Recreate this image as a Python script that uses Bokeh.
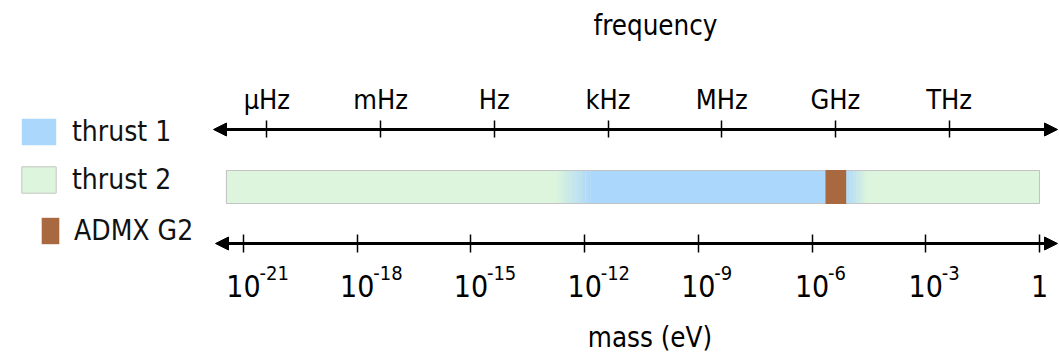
import math
from bokeh.plotting import figure
from bokeh.models import (Range1d, LogScale, LogAxis, FixedTicker, Arrow, NormalHead,
                          Legend, LegendItem, ColumnDataSource)
from bokeh.core.properties import value
from bokeh.embed import file_html
from bokeh.resources import INLINE

# ---------------- data ----------------
series_names = ["thrust 1", "thrust 2", "ADMX G2"]
thrust1_range = [10 ** -12.31, 10 ** -4.83]     # mass, eV (fade centres)
thrust2_range = [10 ** -21.45, 1.0]             # mass, eV
admx_range = [10 ** -5.646, 10 ** -5.10]        # mass, eV
mass_ticks = [1e-21, 1e-18, 1e-15, 1e-12, 1e-9, 1e-6, 1e-3, 1.0]
mass_tick_base = ["10", "10", "10", "10", "10", "10", "10", "1"]
mass_tick_exp = ["-21", "-18", "-15", "-12", "-9", "-6", "-3"]
freq_ticks = [1e-6, 1e-3, 1.0, 1e3, 1e6, 1e9, 1e12]
freq_tick_labels = ["μHz", "mHz", "Hz", "kHz", "MHz", "GHz", "THz"]
H_EV_S = 4.135667696e-15   # Planck constant, eV*s

# ---------------- layout / style ----------------
W, H = 1059, 360
PX_PER_DEC = 37.905
X0 = 243                      # pixel of the 1e-21 tick
L0 = -21 - X0 / PX_PER_DEC
L1 = L0 + W / PX_PER_DEC


def px_to_log(px):
    return (px - X0) / PX_PER_DEC - 21


BAR_TOP, BAR_BOT = 170, 203
AX_TOP_Y, AX_BOT_Y = 129, 243
EXP_Y = 272
ARROW_L_TOP, ARROW_L_BOT, ARROW_R = px_to_log(213), px_to_log(215), px_to_log(1057)
TOP_BOUNDS = (px_to_log(262), px_to_log(1048))   # centres the "frequency" label
BOT_BOUNDS = (px_to_log(240), px_to_log(1075))   # centres the "mass (eV)" label
FADE_L, FADE_R, NFADE = 0.92, 0.54, 14

BLUE, GREEN, BROWN, EDGE = "#acd7fc", "#ddf5dc", "#a86840", "#c4c4c4"
FONT = "DejaVu Sans Condensed"

p = figure(width=W, height=H, x_axis_type="log",
           x_range=Range1d(10 ** L0, 10 ** L1), y_range=Range1d(H, 0),
           x_axis_location=None, y_axis_location=None,
           toolbar_location=None, output_backend="svg", min_border=0)
p.outline_line_color = None
p.background_fill_color = "white"
p.border_fill_color = "white"
for g in p.grid:
    g.visible = False

# thrust 2 (green, full bar)
r_green = p.quad(left=[thrust2_range[0]], right=[thrust2_range[1]], top=BAR_TOP, bottom=BAR_BOT,
                 fill_color=GREEN, line_color=EDGE, line_width=1)

# thrust 1 (blue, with soft edges)
lo, hi = math.log10(thrust1_range[0]), math.log10(thrust1_range[1])
r_blue = p.quad(left=[10 ** (lo + FADE_L / 2)], right=[10 ** (hi - FADE_R / 2)],
                top=BAR_TOP, bottom=BAR_BOT, fill_color=BLUE, line_color=None)
fl, fr, fa = [], [], []
for i in range(NFADE):
    a = (i + 0.5) / NFADE
    s = lo - FADE_L / 2 + i * FADE_L / NFADE
    fl.append(10 ** s); fr.append(10 ** (s + FADE_L / NFADE)); fa.append(a)
    s = hi - FADE_R / 2 + i * FADE_R / NFADE
    fl.append(10 ** s); fr.append(10 ** (s + FADE_R / NFADE)); fa.append(1 - a)
p.quad(left="l", right="r", top=BAR_TOP, bottom=BAR_BOT, fill_alpha="a",
       source=ColumnDataSource(dict(l=fl, r=fr, a=fa)), fill_color=BLUE, line_color=None)
p.quad(left=[thrust2_range[0]], right=[thrust2_range[1]], top=BAR_TOP, bottom=BAR_BOT,
       fill_color=None, line_color=EDGE, line_width=1)

# ADMX G2
r_admx = p.quad(left=[admx_range[0]], right=[admx_range[1]], top=BAR_TOP - 0.5, bottom=BAR_BOT + 0.5,
                fill_color=BROWN, line_color=None)

# top frequency axis / bottom mass axis
p.extra_x_ranges = {"freq": Range1d(10 ** L0 / H_EV_S, 10 ** L1 / H_EV_S)}
p.extra_x_scales = {"freq": LogScale()}
top = LogAxis(x_range_name="freq", fixed_location=AX_TOP_Y,
              ticker=FixedTicker(ticks=freq_ticks, minor_ticks=[]),
              major_label_overrides=dict(zip(freq_ticks, freq_tick_labels)),
              bounds=(10 ** TOP_BOUNDS[0] / H_EV_S, 10 ** TOP_BOUNDS[1] / H_EV_S),
              axis_label="frequency")
bot = LogAxis(fixed_location=AX_BOT_Y,
              ticker=FixedTicker(ticks=mass_ticks, minor_ticks=[]),
              major_label_overrides=dict(zip(mass_ticks, mass_tick_base)),
              bounds=(10 ** BOT_BOUNDS[0], 10 ** BOT_BOUNDS[1]),
              axis_label="mass (eV)")
for ax, tin, tout in ((top, 8, 9), (bot, 9, 9)):
    ax.axis_line_color = None          # the line itself is drawn by the arrows
    ax.major_tick_line_width = 1.5
    ax.major_tick_line_color = "black"
    ax.major_tick_in = tin
    ax.major_tick_out = tout
    ax.minor_tick_line_color = None
    ax.major_label_text_color = "black"
    ax.axis_label_text_color = "black"
    ax.axis_label_text_font = FONT
    ax.axis_label_text_font_size = "27.5px"
    ax.axis_label_text_font_style = "normal"
top.major_label_text_font = FONT
top.major_label_text_font_size = "27px"
top.major_label_standoff = 6
top.axis_label_standoff = 40
bot.major_label_text_font = FONT
bot.major_label_text_font_size = "30px"
bot.major_label_standoff = 22
bot.axis_label_standoff = 21
p.add_layout(top, "above")
p.add_layout(bot, "below")

# exponents of mass tick labels
p.text(x=mass_ticks[:-1], y=EXP_Y, text=mass_tick_exp, text_font=value(FONT),
       text_font_size="20px", text_align="left", text_baseline="alphabetic",
       x_offset=16, text_color="black")

# axis lines with arrow heads
for y, xl in ((AX_TOP_Y, ARROW_L_TOP), (AX_BOT_Y, ARROW_L_BOT)):
    p.add_layout(Arrow(x_start=10 ** xl, x_end=10 ** ARROW_R, y_start=y, y_end=y,
                       line_width=3, line_color="black",
                       start=NormalHead(size=13, fill_color="black", line_color="black", line_width=1),
                       end=NormalHead(size=13, fill_color="black", line_color="black", line_width=1)))

# legends
common = dict(padding=0, margin=0, border_line_color=None, background_fill_alpha=0,
              label_text_font=FONT, label_text_font_size="28px", label_text_color="#111111",
              glyph_height=33)
leg1 = Legend(items=[LegendItem(label=series_names[0], renderers=[r_blue]),
                     LegendItem(label=series_names[1], renderers=[r_green])],
              location=(17, 164), glyph_width=43, spacing=15, label_standoff=12, **common)
leg2 = Legend(items=[LegendItem(label=series_names[2], renderers=[r_admx])],
              location=(39, 113), glyph_width=22, label_standoff=13, **common)
p.add_layout(leg1)
p.add_layout(leg2)

open("out.html", "w").write(file_html(p, INLINE))
